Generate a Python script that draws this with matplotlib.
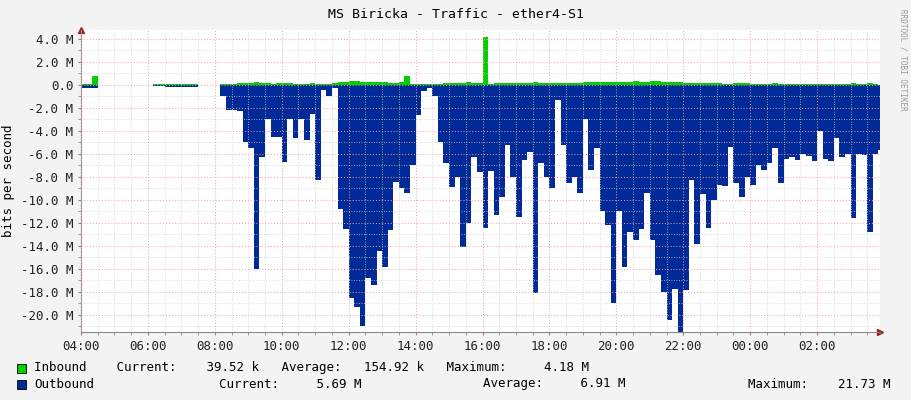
import numpy as np
import matplotlib
matplotlib.use("Agg")
import matplotlib.pyplot as plt
from matplotlib.ticker import FixedLocator, MultipleLocator

nan = np.nan
# 10-minute samples starting 04:00, values in Mbit/s
outbound = [0.3, 0.3, 0.3, 0.3, nan, 0.05, nan, 0.05, nan, nan, nan, nan, nan, 0.05,
            0.05, 0.2, 0.2, 0.2, 0.2, 0.2, 0.2, 0.2, nan, 0.05, nan,
            1.0, 2.2, 2.2, 2.3, 5.0, 5.5, 16.0, 6.3, 3.0, 4.5, 4.5, 6.7, 3.0, 4.6, 3.0,
            4.8, 2.5, 8.3, 0.4, 1.0, 0.3, 10.8, 12.5, 18.5, 19.3, 21.0, 16.8, 17.4, 14.4,
            15.8, 12.6, 8.4, 9.0, 9.4, 7.0, 2.6, 0.5, 0.3, 1.0, 5.0, 6.8, 8.9, 8.0,
            14.1, 12.0, 6.3, 7.6, 12.4, 7.5, 11.3, 9.7, 5.2, 8.0, 11.5, 6.5, 5.8, 18.1,
            6.8, 8.0, 9.0, 1.3, 5.2, 8.5, 8.0, 9.4, 3.0, 7.4, 5.5, 11.0, 12.2, 19.0,
            11.0, 15.8, 12.8, 13.5, 12.5, 9.4, 13.5, 16.5, 18.0, 20.4, 17.7, 21.73, 17.8,
            8.3, 13.8, 9.5, 12.4, 10.0, 8.7, 8.8, 5.4, 8.5, 9.7, 8.0, 8.7, 7.0, 7.4,
            6.8, 5.5, 8.5, 6.4, 6.3, 6.5, 6.0, 6.2, 6.6, 4.0, 6.4, 6.6, 4.6, 6.3, 6.0,
            11.6, 6.0, 6.1, 12.8, 6.0, 5.69]
inbound = [0.1, 0.1, 0.8, 0.1, nan, 0.05, nan, 0.05, nan, nan, nan, nan, nan, 0.05,
           0.05, 0.1, 0.1, 0.1, 0.1, 0.1, 0.1, 0.1, nan, 0.05, nan,
           0.1, 0.1, 0.1, 0.15, 0.15, 0.2, 0.3, 0.15, 0.15, 0.1, 0.2, 0.2, 0.15, 0.1, 0.1,
           0.1, 0.15, 0.1, 0.1, 0.1, 0.15, 0.3, 0.3, 0.35, 0.35, 0.3, 0.3, 0.25, 0.3,
           0.3, 0.2, 0.2, 0.25, 0.8, 0.1, 0.1, 0.1, 0.1, 0.05, 0.1, 0.15, 0.15, 0.2,
           0.2, 0.25, 0.2, 0.15, 4.18, 0.1, 0.2, 0.15, 0.15, 0.2, 0.15, 0.15, 0.2, 0.3,
           0.15, 0.15, 0.15, 0.2, 0.15, 0.2, 0.2, 0.2, 0.3, 0.25, 0.25, 0.3, 0.25, 0.3,
           0.25, 0.3, 0.3, 0.35, 0.3, 0.3, 0.35, 0.35, 0.3, 0.3, 0.25, 0.25, 0.2, 0.15,
           0.15, 0.15, 0.15, 0.15, 0.15, 0.1, 0.1, 0.15, 0.15, 0.15, 0.1, 0.1, 0.1,
           0.1, 0.15, 0.1, 0.1, 0.1, 0.1, 0.1, 0.1, 0.1, 0.1, 0.1, 0.1, 0.1, 0.1, 0.1,
           0.15, 0.1, 0.1, 0.2, 0.1, 0.04]
xtick_labels = ["04:00", "06:00", "08:00", "10:00", "12:00", "14:00", "16:00",
                "18:00", "20:00", "22:00", "00:00", "02:00"]
ytick_values = [4, 2, 0, -2, -4, -6, -8, -10, -12, -14, -16, -18, -20]

t = np.arange(len(outbound) + 1) / 6.0
out = np.array(outbound + [outbound[-1]])
inb = np.array(inbound + [inbound[-1]])

mono = "DejaVu Sans Mono"
fig = plt.figure(figsize=(9.11, 4.0), dpi=100, facecolor="#F3F3F3")
ax = fig.add_axes([81/911, 68/400, 799/911, 302/400])
ax.set_facecolor("white")
ax.fill_between(t, 0, inb, step="post", color="#00CF00", lw=0)
ax.fill_between(t, 0, -out, step="post", color="#002A97", lw=0)
ax.set_xlim(0, 23.88)
ax.set_ylim(-21.48, 4.78)

ax.xaxis.set_major_locator(FixedLocator(np.arange(0, 24, 2)))
ax.xaxis.set_minor_locator(MultipleLocator(0.5))
ax.yaxis.set_major_locator(FixedLocator(ytick_values))
ax.yaxis.set_minor_locator(MultipleLocator(1))
ax.set_xticklabels(xtick_labels)
ax.set_yticklabels([("0.0" if v == 0 else f"{v:.1f} M") for v in ytick_values])
ax.grid(which="minor", color="#CCCCCC", ls=(0, (1, 2)), lw=0.6)
ax.grid(which="major", color="#F0A0A0", ls=(0, (1, 2)), lw=0.7)
ax.set_axisbelow(False)
for lbl in ax.get_xticklabels() + ax.get_yticklabels():
    lbl.set_fontfamily(mono); lbl.set_fontsize(9); lbl.set_color("#222222")
ax.tick_params(which="both", length=2, color="#888888")
for s in ["top", "right"]:
    ax.spines[s].set_visible(False)
ax.spines["left"].set_color("#888888"); ax.spines["bottom"].set_color("#888888")
ax.plot([1.0], [0], transform=ax.transAxes, marker=">", color="#A02020", ms=4, clip_on=False)
ax.plot([0], [1.0], transform=ax.transAxes, marker="^", color="#A02020", ms=4, clip_on=False)
ax.set_ylabel("bits per second", fontfamily=mono, fontsize=9)

fig.text(0.5, 1 - 14/400, "MS Biricka - Traffic - ether4-S1", ha="center", va="center",
         fontfamily=mono, fontsize=9.5)
fig.text(1 - 8/911, 0.85, "RRDTOOL / TOBI OETIKER", rotation=270, ha="center", va="center",
         fontfamily=mono, fontsize=5.5, color="#999999")

fig.patches.append(plt.Rectangle((17/911, 1 - 373/400), 9/911, 9/400, transform=fig.transFigure,
                                 facecolor="#00CF00", edgecolor="black", lw=0.6))
fig.patches.append(plt.Rectangle((17/911, 1 - 389/400), 9/911, 9/400, transform=fig.transFigure,
                                 facecolor="#002A97", edgecolor="black", lw=0.6))
y1 = 1 - 368/400; y2 = 1 - 384/400
kw = dict(fontfamily=mono, fontsize=9, va="center")
fig.text(34/911, y1, "Inbound    Current:    39.52 k   Average:   154.92 k   Maximum:     4.18 M", **kw)
fig.text(34/911, y2, "Outbound", **kw)
fig.text(219/911, y2, "Current:     5.69 M", **kw)
fig.text(483/911, y2, "Average:     6.91 M", **kw)
fig.text(748/911, y2, "Maximum:    21.73 M", **kw)

fig.savefig("out.png", dpi=100, facecolor=fig.get_facecolor())
